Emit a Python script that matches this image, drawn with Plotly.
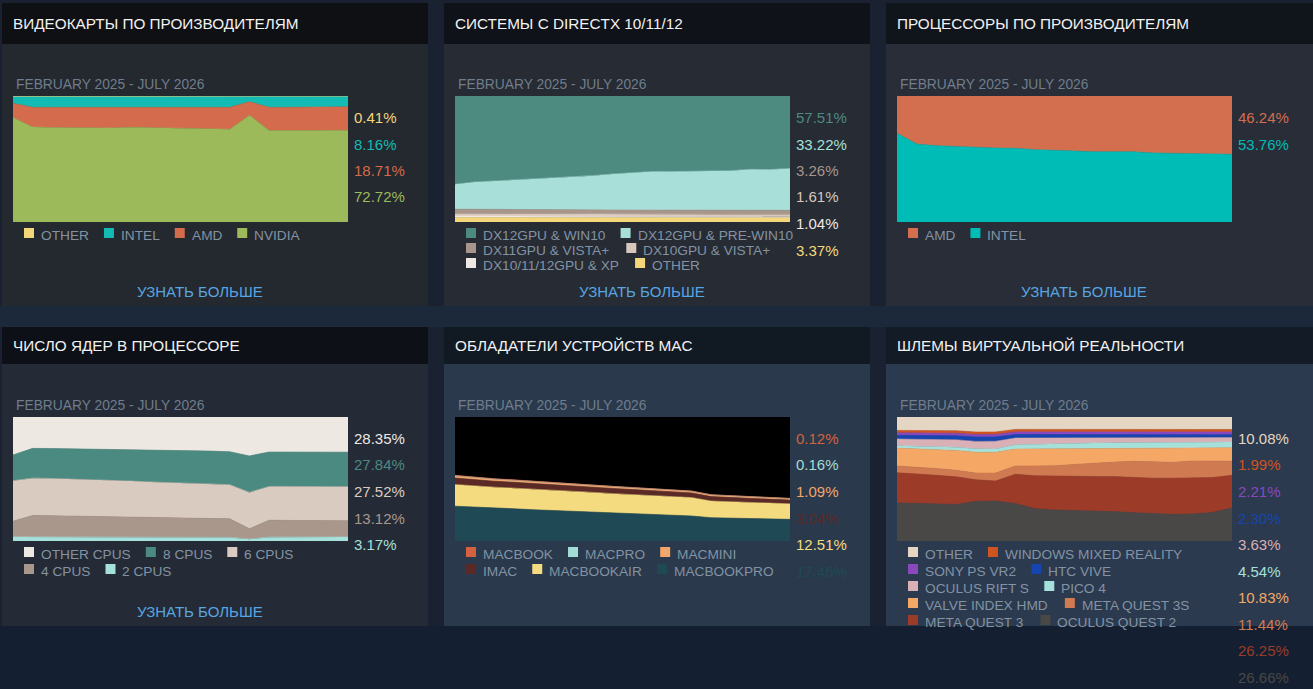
import plotly.graph_objects as go

# ---------------------------------------------------------------- data
months = ['2025-02', '2025-03', '2025-04', '2025-05', '2025-06', '2025-07',
          '2025-08', '2025-09', '2025-10', '2025-11', '2025-12', '2026-01',
          '2026-02', '2026-03', '2026-04', '2026-05', '2026-06', '2026-07']

# videocards by vendor
gpu_other = [0.6, 0.5, 0.5, 0.5, 0.5, 0.5, 0.5, 0.5, 0.5, 0.5, 0.5, 0.5,
             0.5, 0.4, 0.4, 0.4, 0.4, 0.41]
gpu_intel = [5.2, 8.5, 8.5, 8.5, 8.5, 8.5, 8.4, 8.5, 8.5, 8.5, 8.5, 8.5,
             4.0, 8.6, 8.5, 8.3, 8.2, 8.16]
gpu_amd = [11.2, 15.6, 16.0, 16.2, 16.4, 16.4, 15.9, 16.1, 16.4, 16.6, 16.8,
           17.4, 10.7, 18.4, 18.5, 18.6, 18.7, 18.71]
gpu_nvidia = [83.0, 75.4, 75.0, 74.8, 74.6, 74.6, 75.2, 74.9, 74.6, 74.4,
              74.2, 73.6, 84.8, 72.6, 72.6, 72.7, 72.7, 72.72]

# directx systems
dx_win10 = [70.1, 68.3, 67.5, 66.7, 65.9, 65.1, 64.0, 63.2, 61.9, 60.8,
            60.0, 60.0, 59.8, 59.8, 59.3, 58.2, 58.4, 57.51]
dx_prewin10 = [19.7, 21.5, 22.5, 23.5, 24.3, 25.2, 26.4, 27.2, 28.5, 29.7,
               30.6, 30.6, 30.8, 30.9, 31.4, 32.5, 32.3, 33.22]
dx_dx11 = [3.6, 3.6, 3.5, 3.5, 3.5, 3.4, 3.4, 3.4, 3.4, 3.3, 3.3, 3.3,
           3.3, 3.3, 3.3, 3.3, 3.3, 3.26]
dx_dx10 = [1.8, 1.8, 1.8, 1.7, 1.7, 1.7, 1.7, 1.7, 1.7, 1.7, 1.6, 1.6,
           1.6, 1.6, 1.6, 1.6, 1.6, 1.61]
dx_xp = [1.2, 1.2, 1.2, 1.1, 1.1, 1.1, 1.1, 1.1, 1.1, 1.1, 1.1, 1.1,
         1.1, 1.0, 1.0, 1.0, 1.0, 1.04]
dx_other = [3.6, 3.6, 3.5, 3.5, 3.5, 3.5, 3.4, 3.4, 3.4, 3.4, 3.4, 3.4,
            3.4, 3.4, 3.4, 3.4, 3.4, 3.37]

# processors by vendor
cpu_amd = [29.6, 38.1, 39.4, 40.2, 40.7, 41.3, 41.5, 42.6, 43.1, 43.7, 44.2,
           44.2, 44.2, 45.2, 45.5, 46.0, 46.2, 46.24]
cpu_intel = [70.4, 61.9, 60.6, 59.8, 59.3, 58.7, 58.5, 57.4, 56.9, 56.3,
             55.8, 55.8, 55.8, 54.8, 54.5, 54.0, 53.8, 53.76]

# physical cpu cores
cores_other = [30.6, 25.3, 25.4, 25.6, 25.8, 26.1, 26.4, 26.7, 27.0, 27.2,
               27.5, 28.0, 31.4, 28.2, 28.2, 28.2, 28.3, 28.35]
cores_8 = [20.8, 24.0, 24.2, 24.4, 24.7, 24.9, 25.3, 25.7, 26.0, 26.2, 26.2,
           26.6, 29.4, 27.8, 27.8, 27.9, 27.9, 27.84]
cores_6 = [32.6, 30.1, 30.0, 29.9, 29.7, 29.5, 29.1, 28.7, 28.4, 28.2, 28.1,
           27.5, 29.3, 27.2, 27.4, 27.4, 27.4, 27.52]
cores_4 = [12.7, 17.4, 17.2, 17.0, 16.7, 16.5, 16.2, 15.9, 15.7, 15.5, 15.3,
           15.0, 8.4, 13.7, 13.5, 13.4, 13.2, 13.12]
cores_2 = [3.3, 3.2, 3.2, 3.1, 3.1, 3.0, 3.0, 3.0, 2.9, 2.9, 2.9, 2.9,
           1.5, 3.1, 3.1, 3.1, 3.2, 3.17]

# mac owners
mac_macbook = [0.3, 0.3, 0.25, 0.25, 0.2, 0.2, 0.2, 0.2, 0.18, 0.18, 0.16,
               0.15, 0.15, 0.14, 0.14, 0.13, 0.13, 0.12]
mac_macpro = [0.3, 0.3, 0.3, 0.25, 0.25, 0.25, 0.2, 0.2, 0.2, 0.2, 0.2, 0.2,
              0.2, 0.18, 0.18, 0.17, 0.17, 0.16]
mac_macmini = [1.6, 1.6, 1.5, 1.5, 1.5, 1.4, 1.4, 1.4, 1.3, 1.3, 1.3, 1.2,
               1.2, 1.2, 1.2, 1.1, 1.1, 1.09]
mac_imac = [5.3, 5.0, 4.8, 4.7, 4.6, 4.5, 4.4, 4.3, 4.2, 4.1, 4.0, 3.9,
            3.8, 3.6, 3.4, 3.3, 3.2, 3.04]
mac_air = [17.4, 17.0, 16.8, 16.6, 16.4, 16.2, 16.0, 15.8, 15.6, 15.4, 15.2,
           15.0, 14.8, 13.4, 13.2, 13.0, 12.8, 12.51]
mac_pro = [28.1, 27.2, 26.6, 26.0, 25.2, 24.6, 24.0, 23.4, 22.6, 22.0, 21.4,
           20.8, 20.2, 18.8, 18.4, 18.0, 17.6, 17.46]

# vr headsets
vr_other = [10.8, 11.0, 11.1, 11.1, 12.1, 12.1, 10.0, 10.0, 10.0, 10.0, 10.0,
            10.0, 10.0, 10.0, 10.0, 10.0, 10.0, 10.08]
vr_wmr = [2.0, 2.0, 2.0, 2.0, 2.0, 2.0, 2.0, 2.0, 2.0, 2.0, 2.0, 2.0,
          2.0, 2.0, 2.0, 2.0, 2.0, 1.99]
vr_psvr2 = [2.0, 2.0, 2.0, 2.0, 2.0, 2.0, 2.1, 2.1, 2.1, 2.1, 2.2, 2.2,
            2.2, 2.2, 2.2, 2.2, 2.2, 2.21]
vr_vive = [3.0, 3.0, 3.1, 3.3, 3.6, 3.6, 2.9, 2.8, 2.7, 2.6, 2.6, 2.5,
           2.5, 2.4, 2.4, 2.4, 2.3, 2.30]
vr_rifts = [5.4, 5.5, 5.7, 5.9, 6.0, 6.2, 5.4, 5.0, 4.6, 4.3, 4.1, 4.0,
            3.9, 3.8, 3.7, 3.7, 3.7, 3.63]
vr_pico4 = [1.9, 2.2, 2.5, 2.7, 2.7, 2.7, 3.5, 3.9, 4.3, 4.4, 4.4, 4.2,
            4.2, 4.3, 4.4, 4.4, 4.5, 4.54]
vr_index = [14.4, 14.7, 15.1, 16.0, 16.8, 16.8, 13.6, 13.6, 13.6, 12.7, 11.8,
            11.2, 10.8, 11.5, 11.7, 10.6, 10.5, 10.83]
vr_quest3s = [5.4, 5.3, 5.5, 5.2, 5.4, 6.4, 6.7, 7.9, 8.3, 9.6, 10.8, 11.6,
              13.1, 12.9, 12.7, 13.9, 13.5, 11.44]
vr_quest3 = [24.3, 24.0, 23.1, 22.3, 17.4, 16.2, 23.5, 26.6, 27.2, 27.4,
             27.8, 28.0, 28.2, 28.3, 29.1, 28.7, 28.0, 26.25]
vr_quest2 = [30.8, 30.3, 29.9, 29.5, 32.0, 32.4, 30.3, 26.0, 25.0, 24.6,
             24.1, 23.5, 22.8, 22.2, 21.4, 21.8, 23.0, 26.66]

period = 'FEBRUARY 2025 - JULY 2026'
link_text = 'УЗНАТЬ БОЛЬШЕ'

# ---------------------------------------------------------------- layout
W, H = 1313, 689
FONT = 'Arial, Liberation Sans, sans-serif'

COLS = [(2, 428), (444, 870), (886, 1313)]
ROWS = [
    dict(head_top=3, head_bot=44, body_bot=306, plot_top=96, plot_bot=222),
    dict(head_top=327, head_bot=364, body_bot=626, plot_top=417, plot_bot=541),
]
PLOT_PAD = 11       # from panel edge to plot area
PLOT_W = 335
LEGEND_MAX = 343    # wrap width of the legend rows
TEXT_NUDGE = 2      # annotation boxes put the text a little right of x

# approximate Arial advance widths (per 1000 em) used to flow the legends
CHAR_W = {
    'A': 667, 'B': 667, 'C': 722, 'D': 722, 'E': 667, 'F': 611, 'G': 778,
    'H': 722, 'I': 278, 'J': 500, 'K': 667, 'L': 556, 'M': 833, 'N': 722,
    'O': 778, 'P': 667, 'Q': 778, 'R': 722, 'S': 667, 'T': 611, 'U': 722,
    'V': 667, 'W': 944, 'X': 667, 'Y': 667, 'Z': 611, ' ': 278, '&': 667,
    '/': 278, '+': 584, '-': 333, '.': 278, '%': 889,
}


def text_width(text, size):
    """Rough pixel width of a string in Arial"""
    return sum(CHAR_W.get(c, 556) for c in text) * size / 1000


def px(x, y):
    """Converts pixel coordinates to paper coordinates"""
    return x / W, 1 - y / H


def label(x, y, text, size, colour, anchor='left'):
    """Builds a paper-positioned text annotation from pixel coordinates"""
    if anchor == 'left':
        x -= TEXT_NUDGE
    ax, ay = px(x, y)
    return dict(x=ax, y=ay, xref='paper', yref='paper', text=text,
                showarrow=False, xanchor=anchor, yanchor='middle',
                font=dict(family=FONT, size=size, color=colour))


def box(x0, y0, x1, y1, colour, layer='below'):
    """Builds a paper-positioned rectangle from pixel coordinates"""
    ax0, ay0 = px(x0, y0)
    ax1, ay1 = px(x1, y1)
    return dict(type='rect', xref='paper', yref='paper', layer=layer,
                x0=ax0, x1=ax1, y0=ay1, y1=ay0, line_width=0,
                fillcolor=colour)


panels = [
    dict(title='ВИДЕОКАРТЫ ПО ПРОИЗВОДИТЕЛЯМ', col=0, row=0, norm=True,
         link=True, row_gap=17,
         series=[('OTHER', gpu_other, '#f4d67a'),
                 ('INTEL', gpu_intel, '#12bbb4'),
                 ('AMD', gpu_amd, '#d46b4c'),
                 ('NVIDIA', gpu_nvidia, '#9cba5a')]),
    dict(title='СИСТЕМЫ С DIRECTX 10/11/12', col=1, row=0, norm=True,
         link=True, row_gap=15,
         series=[('DX12GPU & WIN10', dx_win10, '#4d8a80'),
                 ('DX12GPU & PRE-WIN10', dx_prewin10, '#a8e0d9'),
                 ('DX11GPU & VISTA+', dx_dx11, '#a8968c'),
                 ('DX10GPU & VISTA+', dx_dx10, '#d9c7bb'),
                 ('DX10/11/12GPU & XP', dx_xp, '#efe7e3'),
                 ('OTHER', dx_other, '#f4d77a')]),
    dict(title='ПРОЦЕССОРЫ ПО ПРОИЗВОДИТЕЛЯМ', col=2, row=0, norm=True,
         link=True, row_gap=17,
         series=[('AMD', cpu_amd, '#d36e4f'),
                 ('INTEL', cpu_intel, '#00bcb6')]),
    dict(title='ЧИСЛО ЯДЕР В ПРОЦЕССОРЕ', col=0, row=1, norm=True,
         link=True, row_gap=17,
         series=[('OTHER CPUS', cores_other, '#eee8e3'),
                 ('8 CPUS', cores_8, '#4a8a80'),
                 ('6 CPUS', cores_6, '#dacbc0'),
                 ('4 CPUS', cores_4, '#aa978c'),
                 ('2 CPUS', cores_2, '#a6e0da')]),
    dict(title='ОБЛАДАТЕЛИ УСТРОЙСТВ MAC', col=1, row=1, norm=False,
         link=False, row_gap=17,
         series=[('MACBOOK', mac_macbook, '#d4623f'),
                 ('MACPRO', mac_macpro, '#a6dcd8'),
                 ('MACMINI', mac_macmini, '#f2a66a'),
                 ('IMAC', mac_imac, '#5b2a26'),
                 ('MACBOOKAIR', mac_air, '#f5db80'),
                 ('MACBOOKPRO', mac_pro, '#1f4a55')]),
    dict(title='ШЛЕМЫ ВИРТУАЛЬНОЙ РЕАЛЬНОСТИ', col=2, row=1, norm=True,
         link=False, row_gap=17,
         series=[('OTHER', vr_other, '#e5d6c3'),
                 ('WINDOWS MIXED REALITY', vr_wmr, '#d0541f'),
                 ('SONY PS VR2', vr_psvr2, '#8a48bf'),
                 ('HTC VIVE', vr_vive, '#1745b0'),
                 ('OCULUS RIFT S', vr_rifts, '#d9b0b6'),
                 ('PICO 4', vr_pico4, '#a5e0da'),
                 ('VALVE INDEX HMD', vr_index, '#f5a866'),
                 ('META QUEST 3S', vr_quest3s, '#d07a52'),
                 ('META QUEST 3', vr_quest3, '#9d3b29'),
                 ('OCULUS QUEST 2', vr_quest2, '#4a4747')]),
]

HEAD_COLORS = ['#0e1014', '#0f1218', '#10141b', '#0d1117', '#111923', '#121b26']
BODY_COLORS = ['#24282f', '#262b34', '#282d37', '#242b36', '#2a394c', '#2b3a4e']


def add_panel(fig, k, panel, shapes, annotations):
    """
    Adds one stacked-area panel with its frame, texts and legend

    :param fig: the figure
    :param k: panel number starting at 1
    :param panel: panel description
    :param shapes: list collecting layout shapes
    :param annotations: list collecting layout annotations
    """
    left, right = COLS[panel['col']]
    row = ROWS[panel['row']]
    plot_l = left + PLOT_PAD
    plot_r = plot_l + PLOT_W
    suffix = '' if k == 1 else str(k)

    # panel frame: header bar and body
    shapes.append(box(left, row['head_top'], right, row['head_bot'],
                      HEAD_COLORS[k - 1]))
    shapes.append(box(left, row['head_bot'], right, row['body_bot'],
                      BODY_COLORS[k - 1]))

    # axes for this panel
    dx0, dy1 = px(plot_l, row['plot_top'])
    dx1, dy0 = px(plot_r, row['plot_bot'])
    fig.layout['xaxis' + suffix] = dict(
        domain=[dx0, dx1], range=[0, len(months) - 1], type='category',
        visible=False, fixedrange=True, anchor='y' + suffix)
    fig.layout['yaxis' + suffix] = dict(
        domain=[dy0, dy1], range=[0, 100], visible=False, fixedrange=True,
        anchor='x' + suffix)

    if not panel['norm']:
        # mac chart is not normalised, the rest of the area is black
        shapes.append(dict(type='rect', xref='x' + suffix + ' domain',
                           yref='y' + suffix + ' domain', layer='below',
                           x0=0, x1=1, y0=0, y1=1, line_width=0,
                           fillcolor='#000000'))

    # stacked areas, bottom series first
    for i, (name, vals, colour) in enumerate(reversed(panel['series'])):
        fig.add_trace(go.Scatter(
            x=months, y=vals, name=name, mode='lines',
            stackgroup='g' + str(k),
            groupnorm='percent' if (panel['norm'] and i == 0) else '',
            line=dict(width=0.6, color=colour), fillcolor=colour,
            xaxis='x' + suffix, yaxis='y' + suffix,
            hoverinfo='skip', showlegend=False))

    # title and period
    annotations.append(label(left + 11, (row['head_top'] + row['head_bot']) / 2,
                             panel['title'], 15.3, '#f2f2f2'))
    annotations.append(label(plot_l + 3, row['plot_top'] - 12, period, 13.8,
                             '#6f7d8c'))

    # latest values on the right
    for j, (name, vals, colour) in enumerate(panel['series']):
        annotations.append(label(plot_r + 6, row['plot_top'] + 21.5 + 26.5 * j,
                                 '{0:.2f}%'.format(vals[-1]), 15, colour))

    # legend, flowed in rows
    size = 13.7
    cur_x = plot_l + 11
    line_y = row['plot_bot'] + 13
    for name, vals, colour in panel['series']:
        w = text_width(name, size)
        if cur_x > plot_l + 11 and cur_x + 17 + w > plot_l + LEGEND_MAX:
            cur_x = plot_l + 11
            line_y += panel['row_gap']
        shapes.append(box(cur_x, line_y - 7, cur_x + 10, line_y + 3, colour,
                          layer='above'))
        annotations.append(label(cur_x + 17, line_y, name, size, '#8393a4'))
        cur_x += 17 + w + 15

    # link
    if panel['link']:
        annotations.append(label(plot_l + 187, row['plot_bot'] + 70,
                                 link_text, 15, '#57a5e3', anchor='center'))


def main():
    fig = go.Figure()
    shapes = []
    annotations = []

    # page background bands
    shapes.append(box(0, 306, W, 327, '#1b293b'))
    shapes.append(box(0, 626, W, H, '#142031'))

    for k, panel in enumerate(panels, start=1):
        add_panel(fig, k, panel, shapes, annotations)

    fig.update_layout(
        width=W, height=H,
        margin=dict(l=0, r=0, t=0, b=0),
        paper_bgcolor='#1a2130',
        plot_bgcolor='rgba(0,0,0,0)',
        showlegend=False,
        shapes=shapes,
        annotations=annotations,
        hovermode=False,
    )

    # page body margin would shift the figure off the window
    fig.write_html('out.html', config=dict(displayModeBar=False),
                   post_script="document.body.style.margin='0px';")


if __name__ == '__main__':
    main()
